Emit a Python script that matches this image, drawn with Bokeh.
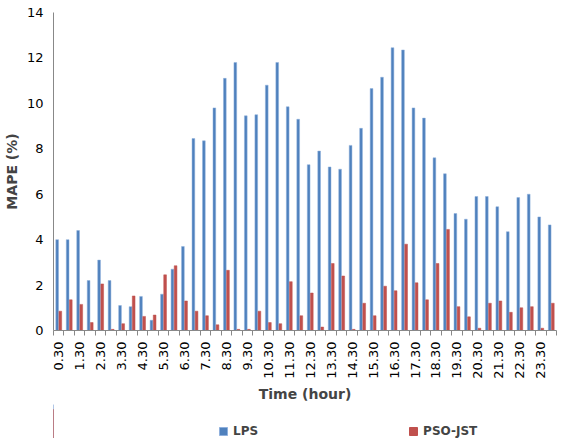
import math

from bokeh.embed import file_html
from bokeh.layouts import column
from bokeh.models import FixedTicker, Legend, LegendItem, Range1d
from bokeh.plotting import figure
from bokeh.resources import INLINE

times = [f"{h}.{m}" for h in range(0, 25) for m in ("00", "30")][1:49]
lps = [4.0, 4.0, 4.4, 2.2, 3.1, 2.2, 1.1, 1.05, 1.5, 0.45, 1.6, 2.7,
       3.7, 8.45, 8.35, 9.8, 11.1, 11.8, 9.45, 9.5, 10.8, 11.8, 9.85, 9.3,
       7.3, 7.9, 7.2, 7.1, 8.15, 8.9, 10.65, 11.15, 12.45, 12.35, 9.8, 9.35,
       7.6, 6.9, 5.15, 4.9, 5.9, 5.9, 5.45, 4.35, 5.85, 6.0, 5.0, 4.65]
pso = [0.85, 1.35, 1.15, 0.35, 2.05, 0.05, 0.3, 1.52, 0.62, 0.68, 2.45, 2.85,
       1.3, 0.85, 0.65, 0.25, 2.65, 0.05, 0.05, 0.85, 0.35, 0.3, 2.15, 0.65,
       1.65, 0.15, 2.95, 2.4, 0.05, 1.2, 0.65, 1.95, 1.75, 3.8, 2.1, 1.35,
       2.95, 4.45, 1.05, 0.6, 0.1, 1.2, 1.3, 0.8, 1.0, 1.05, 0.1, 1.2]

xs = list(range(1, len(times) + 1))

p = figure(width=560, height=404, output_backend="svg", toolbar_location=None,
           x_range=Range1d(0.5, len(times) + 0.5), y_range=Range1d(0, 14),
           min_border_left=24, min_border_right=4, min_border_top=12,
           min_border_bottom=0)
p.outline_line_color = None
p.grid.grid_line_color = None

p.vbar(x=[x - 0.15 for x in xs], top=lps, width=0.26, fill_color="#4f81bd",
       line_color="#8fb0dd", line_width=0.5)
p.vbar(x=[x + 0.15 for x in xs], top=pso, width=0.26, fill_color="#c0504d",
       line_color="#c0504d", line_width=0.5)

odd = xs[::2]
p.xaxis.ticker = FixedTicker(ticks=odd, minor_ticks=[x + 0.5 for x in range(0, 49)])
p.xaxis.major_label_overrides = {x: times[x - 1] for x in odd}
p.xaxis.major_label_orientation = math.pi / 2
p.xaxis.minor_tick_in = 0
p.xaxis.minor_tick_out = 5
p.xaxis.axis_label = "Time (hour)"

p.yaxis.ticker = FixedTicker(ticks=list(range(0, 15, 2)), minor_ticks=[])
p.yaxis.axis_label = "MAPE (%)"
p.yaxis.major_tick_in = 0
p.yaxis.major_tick_out = 5

for ax in (p.xaxis, p.yaxis):
    ax.axis_line_color = "#888888"
    ax.major_tick_line_color = "#888888" if ax is p.yaxis else None
    ax.minor_tick_line_color = "#888888"
    ax.major_label_text_font = "DejaVu Sans"
    ax.major_label_text_font_size = "13px"
    ax.major_label_text_color = "black"
    ax.axis_label_text_font = "DejaVu Sans"
    ax.axis_label_text_font_size = "14px"
    ax.axis_label_text_font_style = "bold"
    ax.axis_label_standoff = 4

# legend lives in its own strip below the chart; its glyphs sit off-range
leg = figure(width=560, height=34, output_backend="svg", toolbar_location=None,
             x_range=Range1d(0, 1), y_range=Range1d(0, 1), min_border=0)
leg.axis.visible = False
leg.grid.grid_line_color = None
leg.outline_line_color = None
l1 = leg.vbar(x=[-5], top=lps[:1], width=0.1, fill_color="#4f81bd", line_color="#8fb0dd")
l2 = leg.vbar(x=[-5], top=pso[:1], width=0.1, fill_color="#c0504d", line_color="#c0504d")
legend = Legend(items=[LegendItem(label="LPS", renderers=[l1]),
                       LegendItem(label="PSO-JST", renderers=[l2])],
                orientation="horizontal", location=(165, 0), spacing=150,
                label_text_font="DejaVu Sans", label_text_font_style="bold",
                label_text_font_size="12px", border_line_color=None,
                background_fill_alpha=0, glyph_width=10, glyph_height=10,
                label_height=12, padding=2, margin=0)
leg.add_layout(legend)

open("out.html", "w").write(file_html(column(p, leg, spacing=0), INLINE))
